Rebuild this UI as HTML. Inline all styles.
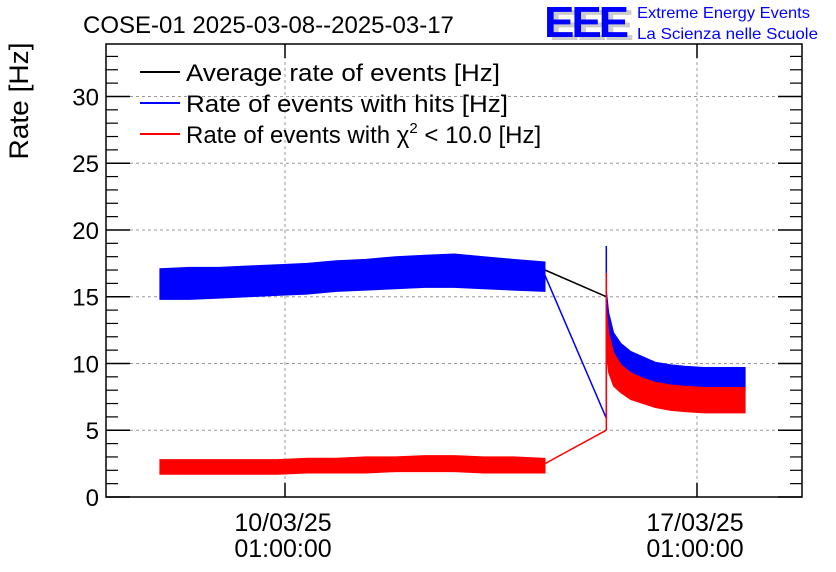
<!DOCTYPE html>
<html><head><meta charset="utf-8">
<style>
html,body{margin:0;padding:0;background:#fff;}
svg{display:block;font-family:"Liberation Sans",sans-serif;}
</style></head>
<body>
<svg id="chart" width="836" height="572" viewBox="0 0 836 572">
<text x="83" y="33" font-size="24">COSE-01 2025-03-08--2025-03-17</text>
<g>
<text x="549" y="40" font-size="44" fill="#ccc" font-weight="bold" letter-spacing="-3" textLength="82" lengthAdjust="spacingAndGlyphs">EEE</text>
<text x="544" y="37" font-size="44" fill="#0000ff" font-weight="bold" letter-spacing="-3" textLength="82" lengthAdjust="spacingAndGlyphs">EEE</text>
<text x="637" y="18" font-size="16" fill="#0000ff" textLength="173" lengthAdjust="spacingAndGlyphs">Extreme Energy Events</text>
<text x="637" y="39" font-size="16" fill="#0000ff" textLength="181" lengthAdjust="spacingAndGlyphs">La Scienza nelle Scuole</text>
</g>
<g id="grid"></g>
<g id="series"></g>
<rect x="106" y="44" width="696" height="453" fill="none" stroke="#000" stroke-width="1.5"/>
<g id="axes"></g>
<text transform="translate(28,101) rotate(-90)" font-size="27" text-anchor="middle" textLength="117" lengthAdjust="spacingAndGlyphs">Rate [Hz]</text>
<g>
<line x1="140" y1="72" x2="180" y2="72" stroke="#000" stroke-width="2"/>
<text x="186" y="81" font-size="24" textLength="314" lengthAdjust="spacingAndGlyphs">Average rate of events [Hz]</text>
<line x1="140" y1="103" x2="180" y2="103" stroke="#0000ff" stroke-width="2"/>
<text x="186" y="112" font-size="24" textLength="322" lengthAdjust="spacingAndGlyphs">Rate of events with hits [Hz]</text>
<line x1="140" y1="134" x2="180" y2="134" stroke="#ff0000" stroke-width="2"/>
<text x="186" y="143" font-size="24">Rate of events with χ<tspan font-size="15" dy="-10">2</tspan><tspan dy="10"> &lt; 10.0 [Hz]</tspan></text>
</g>
</svg>
<script>
// time in hours since 2025-03-08 00:00
const xTickHours = [49, 217];
const xTickLabels = [["10/03/25","01:00:00"],["17/03/25","01:00:00"]];
const yTicks = [0,5,10,15,20,25,30];
// segment 1 (before gap)
const t1 = [-2, 10, 22, 34, 46, 58, 70, 82, 94, 106, 118, 130, 142, 155];
const blueLo1 = [14.8, 14.8, 14.9, 15.0, 15.1, 15.2, 15.4, 15.5, 15.6, 15.7, 15.7, 15.6, 15.5, 15.4];
const blueHi1 = [17.1, 17.2, 17.2, 17.3, 17.4, 17.5, 17.7, 17.8, 18.0, 18.1, 18.2, 18.0, 17.8, 17.6];
const redLo1 = [1.7, 1.7, 1.7, 1.7, 1.7, 1.8, 1.8, 1.8, 1.9, 1.9, 1.9, 1.8, 1.8, 1.8];
const redHi1 = [2.8, 2.8, 2.8, 2.8, 2.8, 2.9, 2.9, 3.0, 3.0, 3.1, 3.1, 3.0, 3.0, 2.9];
// segment 2 (after gap)
const t2 = [180, 181, 183, 186, 190, 195, 200, 206, 212, 220, 228, 236.6];
const blueLo2 = [14.0, 11.3, 10.4, 9.8, 9.2, 8.8, 8.5, 8.3, 8.1, 7.9, 7.9, 7.9];
const blueHi2 = [15.5, 13.8, 12.3, 11.5, 10.9, 10.5, 10.1, 9.9, 9.8, 9.7, 9.7, 9.7];
const redLo2 = [10.8, 9.3, 8.3, 7.8, 7.3, 7.0, 6.7, 6.5, 6.4, 6.3, 6.3, 6.3];
const redHi2 = [14.2, 12.3, 10.8, 9.9, 9.3, 8.9, 8.6, 8.4, 8.3, 8.2, 8.2, 8.2];
// gap connectors and spike
const gapT = [155, 180];
const avgGap = [17.0, 15.0];
const blueGap = [16.6, 5.9];
const redGap = [2.5, 5.0];
const spikeT = 180;
const blueSpike = 18.8;
const redSpike = 16.8;

const NS = "http://www.w3.org/2000/svg";
const X0 = 106, X1 = 802, Y0 = 497, Y1 = 44;
const yMax = 33.93;
function xs(h){ return 285 + (h - 49) * (412 / 168); }
function ys(v){ return Y0 - v * (Y0 - Y1) / yMax; }
function mk(tag, attrs, parent){
  const e = document.createElementNS(NS, tag);
  for (const k in attrs) e.setAttribute(k, attrs[k]);
  parent.appendChild(e); return e;
}
const grid = document.getElementById('grid');
const axes = document.getElementById('axes');
const series = document.getElementById('series');
yTicks.forEach(v => {
  if (v > 0) {
    const g = mk('line', {x1:X0, x2:X1, y1:ys(v), y2:ys(v), stroke:'#999', 'stroke-dasharray':'3,3'}, grid);
    
    
  }
  mk('line', {x1:X0, x2:X0+24, y1:ys(v), y2:ys(v), stroke:'#000', 'stroke-width':1.5}, axes);
  mk('line', {x1:X1-24, x2:X1, y1:ys(v), y2:ys(v), stroke:'#000', 'stroke-width':1.5}, axes);
  const t = mk('text', {x:X0-7, y:ys(v)+9, 'font-size':24, 'text-anchor':'end'}, axes);
  t.textContent = v;
  
  
});
for (let v = 1; v < yMax; v++) {
  if (v % 5 === 0) continue;
  mk('line', {x1:X0, x2:X0+12, y1:ys(v), y2:ys(v), stroke:'#000', 'stroke-width':1.2}, axes);
  mk('line', {x1:X1-12, x2:X1, y1:ys(v), y2:ys(v), stroke:'#000', 'stroke-width':1.2}, axes);
}
xTickHours.forEach((h, i) => {
  const g = mk('line', {x1:xs(h), x2:xs(h), y1:Y1, y2:Y0, stroke:'#999', 'stroke-dasharray':'3,3'}, grid);
  
  
  mk('line', {x1:xs(h), x2:xs(h), y1:Y0, y2:Y0-14, stroke:'#000', 'stroke-width':1.5}, axes);
  mk('line', {x1:xs(h), x2:xs(h), y1:Y1, y2:Y1+14, stroke:'#000', 'stroke-width':1.5}, axes);
  const t = mk('text', {x:xs(h)-2, y:531, 'font-size':25, 'text-anchor':'middle'}, axes);
  t.textContent = xTickLabels[i][0];
  
  
  const t2e = mk('text', {x:xs(h)-2, y:557, 'font-size':25, 'text-anchor':'middle'}, axes);
  t2e.textContent = xTickLabels[i][1];
  
  
});
function band(ts, lo, hi, color, name){
  let d = ts.map((t,i)=>(i?'L':'M')+xs(t).toFixed(1)+','+ys(hi[i]).toFixed(1)).join('');
  for (let i = ts.length-1; i >= 0; i--) d += 'L'+xs(ts[i]).toFixed(1)+','+ys(lo[i]).toFixed(1);
  const p = mk('path', {d:d+'Z', fill:color, stroke:color, 'stroke-width':1}, series);
  
  
}
function line(ts, vs, color, name){
  const p = mk('polyline', {points: ts.map((t,i)=>xs(t).toFixed(1)+','+ys(vs[i]).toFixed(1)).join(' '), fill:'none', stroke:color, 'stroke-width':1.5}, series);
  
  
}
line(gapT, avgGap, '#000', 'average-rate-gap-line');
line(gapT, blueGap, '#0000ff', 'hits-rate-gap-line');
line(gapT, redGap, '#ff0000', 'chi2-rate-gap-line');
band(t1, blueLo1, blueHi1, '#0000ff', 'hits-rate-band-1');
band(t2, blueLo2, blueHi2, '#0000ff', 'hits-rate-band-2');
band(t1, redLo1, redHi1, '#ff0000', 'chi2-rate-band-1');
band(t2, redLo2, redHi2, '#ff0000', 'chi2-rate-band-2');
line([spikeT, spikeT], [blueGap[1], blueSpike], '#0000ff', 'hits-rate-spike');
line([spikeT, spikeT], [redGap[1], redSpike], '#ff0000', 'chi2-rate-spike');
</script>
</body></html>
